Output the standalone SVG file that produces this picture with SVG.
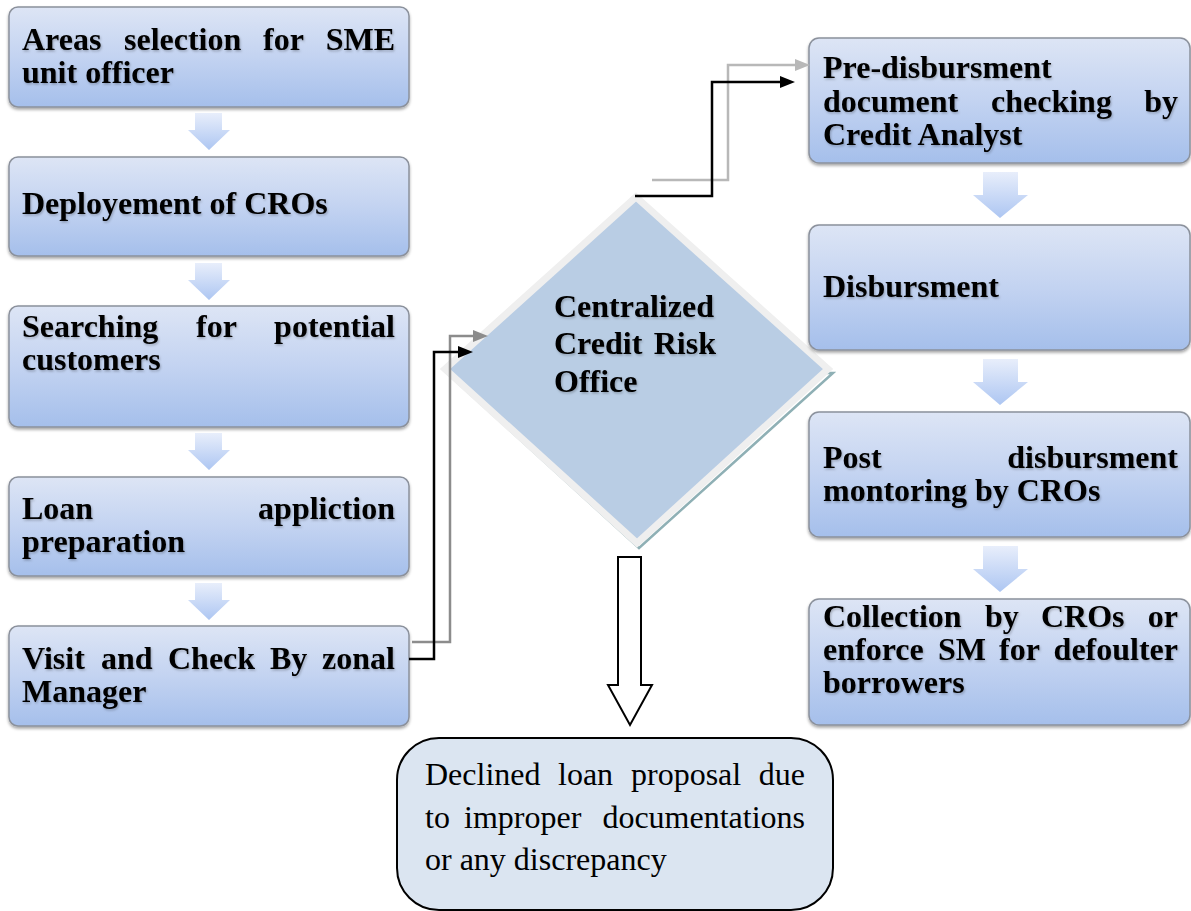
<svg xmlns="http://www.w3.org/2000/svg" width="1191" height="911" viewBox="0 0 1191 911">
<style>
.box{fill:url(#boxGrad);stroke:#8b919c;stroke-width:1.5;filter:url(#shadow)}
.t{font-family:"Liberation Serif","Times New Roman",serif;font-weight:bold;font-size:32px;fill:#000;filter:url(#tshadow)}
.tr{font-family:"Liberation Serif","Times New Roman",serif;font-size:32px;fill:#000}
.sa{fill:url(#arrGrad)}
.conn{fill:none;stroke-width:2.5}
</style>
<defs>
<linearGradient id="boxGrad" x1="0" y1="0" x2="0" y2="1">
<stop offset="0" stop-color="#dde5f5"/>
<stop offset="0.5" stop-color="#c3d3f1"/>
<stop offset="1" stop-color="#a5bfeb"/>
</linearGradient>
<linearGradient id="arrGrad" x1="0" y1="0" x2="0" y2="1">
<stop offset="0" stop-color="#e8eefb"/>
<stop offset="1" stop-color="#adc6f2"/>
</linearGradient>
<filter id="shadow" x="-5%" y="-10%" width="110%" height="130%">
<feDropShadow dx="0" dy="2" stdDeviation="1.5" flood-color="#000" flood-opacity="0.35"/>
</filter>
<filter id="tshadow" x="-5%" y="-20%" width="110%" height="150%">
<feDropShadow dx="1" dy="1.5" stdDeviation="1" flood-color="#000" flood-opacity="0.25"/>
</filter>
<marker id="ahBlack" markerUnits="userSpaceOnUse" markerWidth="15" markerHeight="12" refX="0" refY="6" orient="auto">
<path d="M0,0 L15,6 L0,12 Z" fill="#000"/>
</marker>
<marker id="ahGray" markerUnits="userSpaceOnUse" markerWidth="15" markerHeight="12" refX="0" refY="6" orient="auto">
<path d="M0,0 L15,6 L0,12 Z" fill="#8c8c8c"/>
</marker>
<marker id="ahLight" markerUnits="userSpaceOnUse" markerWidth="15" markerHeight="12" refX="0" refY="6" orient="auto">
<path d="M0,0 L15,6 L0,12 Z" fill="#b8b8b8"/>
</marker>
</defs>

<g id="flow-arrows">
<path class="sa" d="M195,113 H222 V130 H230 L209,150 L188,130 H195 Z"/>
<path class="sa" d="M195,263 H222 V280 H230 L209,300 L188,280 H195 Z"/>
<path class="sa" d="M195,433 H222 V450 H230 L209,470 L188,450 H195 Z"/>
<path class="sa" d="M195,583 H222 V600 H230 L209,620 L188,600 H195 Z"/>
<path class="sa" d="M983,172 H1018 V195 H1028 L1000,218 L973,195 H983 Z"/>
<path class="sa" d="M983,359 H1018 V382 H1028 L1000,405 L973,382 H983 Z"/>
<path class="sa" d="M983,546 H1018 V569 H1028 L1000,592 L973,569 H983 Z"/>
</g>

<g id="n1">
<rect class="box" x="9" y="7" width="400" height="100" rx="9"/>
<text class="t"><tspan x="22" y="49.5">Areas</tspan><tspan x="124" y="49.5">selection</tspan><tspan x="263" y="49.5">for</tspan><tspan x="395" y="49.5" text-anchor="end">SME</tspan><tspan x="22" y="83">unit officer</tspan></text>
</g>
<g id="n2">
<rect class="box" x="9" y="157" width="400" height="99" rx="9"/>
<text class="t" x="22" y="214">Deployement of CROs</text>
</g>
<g id="n3">
<rect class="box" x="9" y="306" width="400" height="121" rx="9"/>
<text class="t"><tspan x="22" y="336.5">Searching</tspan><tspan x="196" y="336.5">for</tspan><tspan x="395" y="336.5" text-anchor="end">potential</tspan><tspan x="22" y="370">customers</tspan></text>
</g>
<g id="n4">
<rect class="box" x="9" y="477" width="400" height="99" rx="9"/>
<text class="t"><tspan x="22" y="519">Loan</tspan><tspan x="395" y="519" text-anchor="end">appliction</tspan><tspan x="22" y="552">preparation</tspan></text>
</g>
<g id="n5">
<rect class="box" x="9" y="626" width="400" height="100" rx="9"/>
<text class="t"><tspan x="22" y="668.5">Visit</tspan><tspan x="101" y="668.5">and</tspan><tspan x="168" y="668.5">Check</tspan><tspan x="270" y="668.5">By</tspan><tspan x="395" y="668.5" text-anchor="end">zonal</tspan><tspan x="22" y="702">Manager</tspan></text>
</g>

<g id="n6">
<polygon points="447,373 639,548 833,373" fill="none" stroke="#8fb0b5" stroke-width="2.5"/>
<polygon points="636,197 828,369 637,543 445,369" fill="#b9cde4" stroke="#efefef" stroke-width="7" stroke-linejoin="miter"/>
<text class="t"><tspan x="554" y="317">Centralized</tspan><tspan x="554" y="354">Credit</tspan><tspan x="716" y="354" text-anchor="end">Risk</tspan><tspan x="554" y="392">Office</tspan></text>
</g>

<g id="n7">
<rect class="box" x="809" y="38" width="381" height="125" rx="10"/>
<text class="t"><tspan x="823" y="78">Pre-disbursment</tspan><tspan x="823" y="112">document</tspan><tspan x="991" y="112">checking</tspan><tspan x="1178" y="112" text-anchor="end">by</tspan><tspan x="823" y="145">Credit Analyst</tspan></text>
</g>
<g id="n8">
<rect class="box" x="809" y="225" width="381" height="125" rx="10"/>
<text class="t" x="823" y="297">Disbursment</text>
</g>
<g id="n9">
<rect class="box" x="809" y="412" width="381" height="125" rx="10"/>
<text class="t"><tspan x="823" y="468">Post</tspan><tspan x="1178" y="468" text-anchor="end">disbursment</tspan><tspan x="823" y="501">montoring by CROs</tspan></text>
</g>
<g id="n10">
<rect class="box" x="809" y="599" width="381" height="126" rx="10"/>
<text class="t"><tspan x="823" y="627">Collection</tspan><tspan x="985" y="627">by</tspan><tspan x="1041" y="627">CROs</tspan><tspan x="1178" y="627" text-anchor="end">or</tspan><tspan x="823" y="660">enforce</tspan><tspan x="938" y="660">SM</tspan><tspan x="999" y="660">for</tspan><tspan x="1178" y="660" text-anchor="end">defoulter</tspan><tspan x="823" y="693">borrowers</tspan></text>
</g>

<g id="n11">
<rect x="397" y="738" width="436" height="172" rx="42" fill="#dbe5f1" stroke="#000" stroke-width="2"/>
<text class="tr"><tspan x="425" y="785">Declined</tspan><tspan x="558" y="785">loan</tspan><tspan x="631" y="785">proposal</tspan><tspan x="805" y="785" text-anchor="end">due</tspan><tspan x="425" y="828">to</tspan><tspan x="464" y="828">improper</tspan><tspan x="805" y="828" text-anchor="end">documentations</tspan><tspan x="425" y="870">or any discrepancy</tspan></text>
</g>

<g id="connectors">
<polyline class="conn" points="412,642 450,642 450,336 473,336" stroke="#8c8c8c" stroke-width="2" marker-end="url(#ahGray)"/>
<polyline class="conn" points="409,659 434,659 434,352 458,352" stroke="#000" marker-end="url(#ahBlack)"/>
<polyline class="conn" points="652,180 728,180 728,65 795,65" stroke="#b8b8b8" stroke-width="2.5" marker-end="url(#ahLight)"/>
<polyline class="conn" points="635,196 712,196 712,82 780,82" stroke="#000" marker-end="url(#ahBlack)"/>
<path d="M618,557 H641 V685 H652 L630,725 L608,685 H618 Z" fill="#fff" stroke="#000" stroke-width="2"/>
</g>
</svg>
